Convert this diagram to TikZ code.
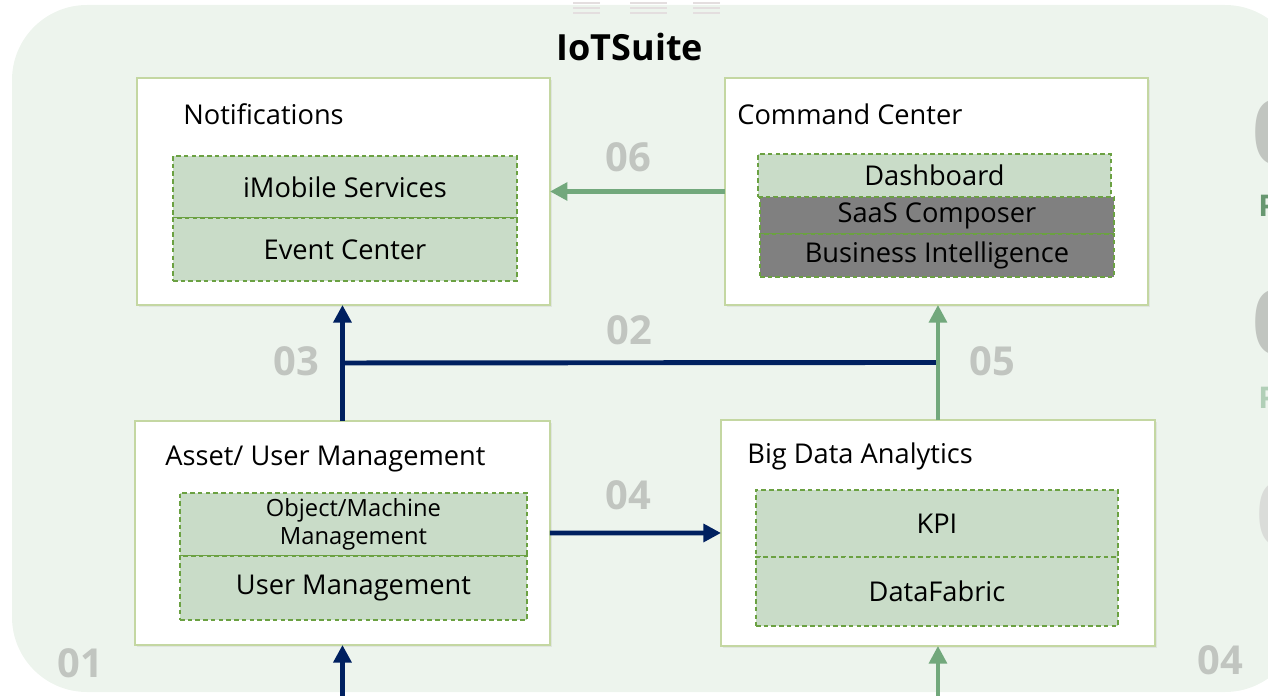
\documentclass[tikz,border=0pt]{standalone}
\usepackage{fontspec}
\setmainfont{Open Sans}
\usepackage{tikz}
\usetikzlibrary{arrows.meta,positioning,calc,shadows}
\definecolor{bgcol}{HTML}{EDF4ED}
\definecolor{edgecol}{HTML}{C4D7A2}
\definecolor{subcol}{HTML}{C9DCC8}
\definecolor{dashcol}{HTML}{6BA142}
\definecolor{darkcol}{HTML}{808080}
\definecolor{navycol}{HTML}{002060}
\definecolor{leafcol}{HTML}{72A87C}
\definecolor{numcol}{HTML}{C1C5C0}
\definecolor{menucol}{HTML}{E4DEDF}

\begin{document}
\begin{tikzpicture}[x=0.02cm,y=-0.02cm,
  box/.style={draw=edgecol,line width=1.1pt,fill=white,anchor=north west,
              inner sep=0pt,outer sep=0pt,
              drop shadow={opacity=0.12,shadow xshift=1.2pt,shadow yshift=-1.2pt}},
  sub/.style={draw=dashcol,line width=0.8pt,dash pattern=on 2.6pt off 1.8pt,
              fill=subcol,anchor=north west,inner sep=0pt,outer sep=0pt,
              align=center,font=\fontsize{15.5}{18}\selectfont},
  hd/.style={anchor=base west,inner sep=0pt,font=\fontsize{15.5}{18}\selectfont},
  num/.style={inner sep=0pt,text=numcol,font=\fontsize{22.7}{24}\selectfont\bfseries},
  arn/.style={-{Triangle[length=10pt,width=10pt]},line width=2.8pt,navycol},
  arg/.style={-{Triangle[length=10pt,width=10pt]},line width=2.6pt,leafcol},
]
\useasboundingbox (0,0) rectangle (1268,696);
\clip (0,0) rectangle (1268,696);
\fill[bgcol,rounded corners=1.5cm] (12,5) rectangle (1300,692);

% menu marks
\foreach \xa/\xb in {573/600,630/667,693/720}
  \foreach \yy in {3,8,13}
    \draw[menucol,line width=1.1pt] (\xa,\yy) -- (\xb,\yy);

\node[inner sep=0pt,font=\fontsize{20.5}{24}\selectfont\bfseries] (suite) at (630,47) {IoTSuite};

% four blocks
\node[box,minimum width=8.26cm,minimum height=4.54cm] (notif) at (137,78) {};
\node[box,minimum width=8.46cm,minimum height=4.54cm] (cmd) at (725,78) {};
\node[box,minimum width=8.30cm,minimum height=4.48cm] (asset) at (135,421) {};
\node[box,minimum width=8.68cm,minimum height=4.52cm] (bda) at (721,420) {};

\node[hd] (notifhd) at (183,125) {Notifications};
\node[hd] (cmdhd) at (737,125) {Command Center};
\node[hd] (assethd) at (165,465) {Asset/ User Management};
\node[hd] (bdahd) at (747,463) {Big Data Analytics};

% modules
\node[sub,minimum width=6.88cm,minimum height=1.24cm] (imob) at (173,156) {iMobile Services};
\node[sub,minimum width=6.88cm,minimum height=1.26cm,below=0pt of imob] (evc) {Event Center};
\node[sub,minimum width=7.06cm,minimum height=0.86cm] (dash) at (758,154) {Dashboard};
\node[sub,fill=darkcol,minimum width=7.08cm,minimum height=0.74cm] (saas) at (760,197) {SaaS Composer};
\node[sub,fill=darkcol,minimum width=7.08cm,minimum height=0.86cm,below=0pt of saas] (bi) {Business Intelligence};
\node[sub,minimum width=6.94cm,minimum height=1.26cm,
      font=\fontsize{13.5}{15.9}\selectfont] (objm) at (180,493) {Object/Machine\\ Management};
\node[sub,minimum width=6.94cm,minimum height=1.28cm,below=0pt of objm] (usrm) {User Management};
\node[sub,minimum width=7.24cm,minimum height=1.34cm] (kpi) at (756,490) {KPI};
\node[sub,minimum width=7.24cm,minimum height=1.38cm,below=0pt of kpi] (dfab) {DataFabric};

% links
\coordinate (jl) at ($(asset.north)!0.5!(notif.south)$);
\coordinate (jr) at ($(bda.north)!0.5!(cmd.south)$);
\coordinate (inl) at ($(asset.south)+(0,60)$);
\coordinate (inr) at ($(bda.south)+(0,60)$);

\draw[arn] (asset.north) -- (asset.north |- notif.south);
\draw[navycol,line width=2.8pt] (jl) -- node[num,above=9pt,xshift=-6pt]{02} (jr);
\draw[arg,line width=2.3pt] (bda.north) -- (bda.north |- cmd.south);
\draw[arg] (cmd.west) -- node[num,above=10pt,xshift=-5pt]{06} (notif.east);
\draw[arn] (asset.east) -- node[num,above=12pt,xshift=-4pt]{04} (bda.west);
\draw[arn] (inl) -- (asset.south);
\draw[arg,line width=2.3pt] (inr) -- (bda.south);

\node[num] (n03) at (296,361) {03};
\node[num] (n05) at (992,361) {05};
\node[num] (n01) at (80,663) {01};
\node[num] (n04) at (1220,660) {04};

% cut-off items at the right edge
\node[anchor=west,inner sep=0pt,text=numcol,font=\fontsize{51}{56}\selectfont\bfseries] (c1) at (1252,132) {0};
\node[anchor=west,inner sep=0pt,text=numcol,font=\fontsize{51}{56}\selectfont\bfseries] (c2) at (1252,322) {0};
\node[anchor=west,inner sep=0pt,text=numcol!60,font=\fontsize{51}{56}\selectfont\bfseries] (c3) at (1256,514) {0};
\node[anchor=west,inner sep=0pt,text=leafcol!90!black,font=\fontsize{17}{20}\selectfont\bfseries] (p1) at (1258,206) {P};
\node[anchor=west,inner sep=0pt,text=leafcol!55,font=\fontsize{17}{20}\selectfont\bfseries] (p2) at (1258,398) {P};
\end{tikzpicture}
\end{document}
